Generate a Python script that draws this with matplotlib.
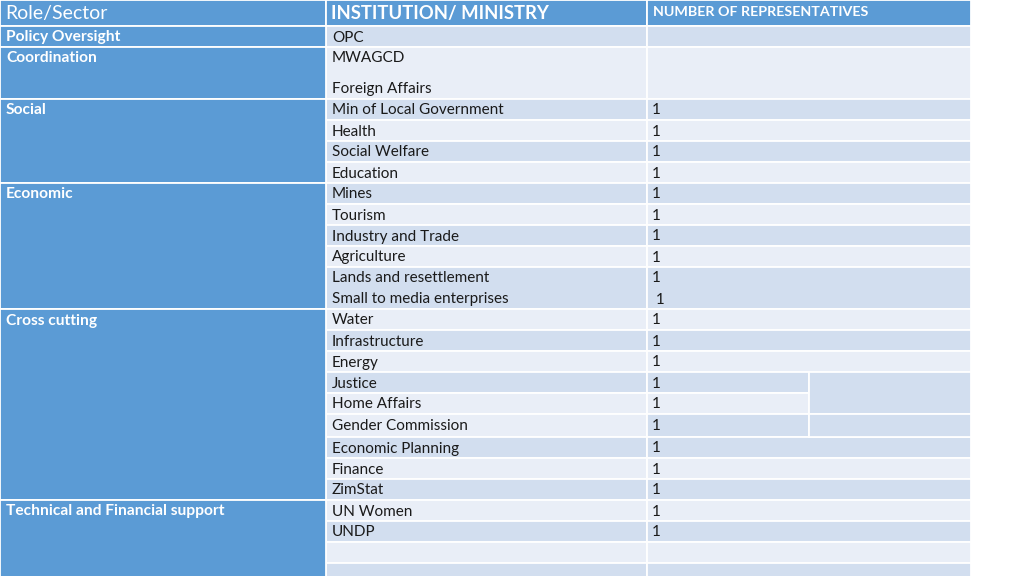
import matplotlib.pyplot as plt
from matplotlib.patches import Rectangle

plt.rcParams['font.family'] = ['Lato', 'DejaVu Sans']

# table content
headers = ['Role/Sector', 'INSTITUTION/ MINISTRY', 'NUMBER OF REPRESENTATIVES']
roles = ['Policy Oversight', 'Coordination', 'Social', 'Economic',
         'Cross cutting', 'Technical and Financial support']
role_rows = [1, 1, 4, 5, 9, 4]
institutions = ['OPC', 'MWAGCD\n\nForeign Affairs', 'Min of Local Government', 'Health',
                'Social Welfare', 'Education', 'Mines', 'Tourism', 'Industry and Trade',
                'Agriculture', 'Lands and resettlement\nSmall to media enterprises',
                'Water', 'Infrastructure', 'Energy', 'Justice', 'Home Affairs',
                'Gender Commission', 'Economic Planning', 'Finance', 'ZimStat',
                'UN Women', 'UNDP', '', '']
representatives = ['', '', '1', '1', '1', '1', '1', '1', '1', '1', '1\n 1',
                   '1', '1', '1', '1', '1', '1', '1', '1', '1', '1', '1', '', '']

# layout (pixels)
row_h = [21, 52, 21, 21, 21, 21, 21, 21, 21, 21, 42, 21, 21, 21, 21, 21, 23,
         21, 21, 21, 21, 21, 21, 21]
shade2 = 'DLDLDLDLDLDLDLDLLDLDLDLD'
shade3 = 'DLDLDLDLDLDLDLDLDDLDLDLD'
head_h = 26
cols = [0, 326, 647, 971]
split_x = 809

blue = '#5B9BD5'
dark = '#D2DEEF'
light = '#E9EEF7'
fills = {'D': dark, 'L': light}

fig = plt.figure(figsize=(10.24, 5.76), dpi=100)
ax = fig.add_axes([0, 0, 1, 1])
ax.set_xlim(0, 1024)
ax.set_ylim(576, 0)
ax.axis('off')


def cell(x0, x1, y0, y1, color):
    ax.add_patch(Rectangle((x0, y0), x1 - x0, y1 - y0, facecolor=color,
                           edgecolor='white', linewidth=1.3))


def lines(x, y0, h, txt, **kw):
    parts = txt.split('\n')
    step = (h - 21) / (len(parts) - 1) if len(parts) > 1 else 0
    for i, p in enumerate(parts):
        ax.text(x, y0 + 11.5 + i * step, p, va='center', ha='left', **kw)


# header
for i in range(3):
    cell(cols[i], cols[i + 1], 0, head_h, blue)
ax.text(5, 13.5, headers[0], color='white', fontsize=14, va='center')
ax.text(331, 13.5, headers[1], color='white', fontsize=13.3, fontweight='bold', va='center')
ax.text(653, 11.5, headers[2], color='white', fontsize=10.3, fontweight='bold', va='center')

# body rows
tops = [head_h]
for h in row_h:
    tops.append(tops[-1] + h)

for i, h in enumerate(row_h):
    y0 = tops[i]
    cell(cols[1], cols[2], y0, y0 + h, fills[shade2[i]])
    if 14 <= i <= 16:
        cell(cols[2], split_x, y0, y0 + h, fills[shade3[i]])
    else:
        cell(cols[2], cols[3], y0, y0 + h, fills[shade3[i]])
    lines(332, y0, h, institutions[i], fontsize=11, color='#1a1a1a')
    lines(652, y0, h, representatives[i], fontsize=11, color='#1a1a1a')

# split column part on the right of col 3
cell(split_x, cols[3], tops[14], tops[16], dark)
cell(split_x, cols[3], tops[16], tops[17], dark)

# role column (merged cells)
r = 0
for role, n in zip(roles, role_rows):
    y0 = tops[r]
    y1 = tops[r + n]
    cell(cols[0], cols[1], y0, y1, blue)
    lines(6, y0, 21, role, fontsize=11.2, fontweight='bold', color='white')
    r += n

fig.savefig('out.png', dpi=100)
